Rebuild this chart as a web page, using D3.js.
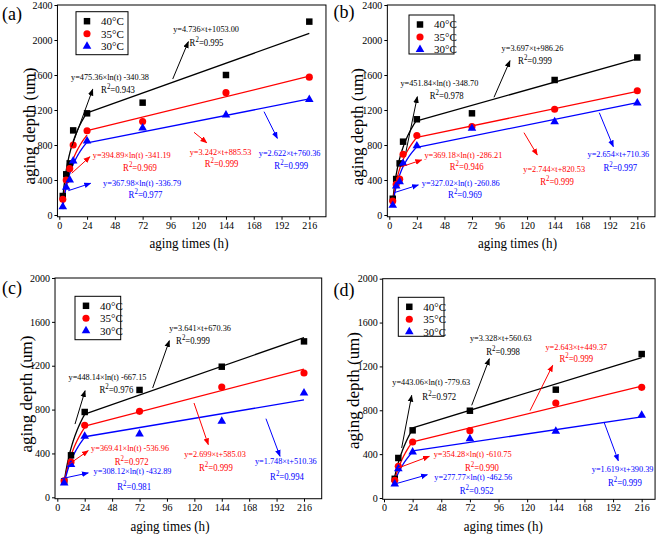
<!DOCTYPE html>
<html>
<head>
<meta charset="utf-8">
<script src="https://cdn.jsdelivr.net/npm/d3@7"></script>
<style>
  body { margin: 0; background: #fff; }
  svg text { font-family: "Liberation Serif", "Times New Roman", serif; font-weight: normal; }
</style>
</head>
<body>
<svg id="chart" width="660" height="536" font-family="Liberation Serif, serif"></svg>
<script>
// ---- data ----
const temps = ["40\u00B0C", "35\u00B0C", "30\u00B0C"];

const timesA = [3, 6, 9, 12, 24, 72, 144, 216];
const a40 = [217, 465, 590, 967, 1162, 1284, 1600, 2210];
const a35 = [179, 400, 530, 800, 963, 1068, 1398, 1575];
const a30 = [95, 317, 400, 617, 845, 995, 1143, 1320];
const logFitA = [[475.36, -340.38], [394.89, -341.19], [367.98, -336.79]];
const linFitA = [[4.736, 1053.00], [3.242, 885.53], [2.622, 760.36]];
const r2LogA = ["0.943", "0.969", "0.977"];
const r2LinA = ["0.995", "0.999", "0.999"];

const timesB = [3, 6, 9, 12, 24, 72, 144, 216];
const b40 = [186, 411, 590, 838, 1094, 1162, 1543, 1800];
const b35 = [160, 350, 410, 694, 908, 1010, 1208, 1420];
const b30 = [110, 330, 380, 590, 790, 990, 1065, 1280];
const logFitB = [[451.84, -348.70], [369.18, -286.21], [327.02, -260.86]];
const linFitB = [[3.697, 986.26], [2.744, 820.53], [2.654, 710.36]];
const r2LogB = ["0.978", "0.946", "0.969"];
const r2LinB = ["0.999", "0.999", "0.997"];

const timesC = [6, 12, 24, 72, 144, 216];
const c40 = [146, 383, 778, 979, 1191, 1422];
const c35 = [150, 322, 657, 784, 1006, 1134];
const c30 = [131, 298, 556, 577, 693, 951];
const logFitC = [[448.14, -667.15], [369.41, -536.96], [308.12, -432.89]];
const linFitC = [[3.641, 670.36], [2.699, 585.03], [1.748, 510.36]];
const r2LogC = ["0.976", "0.972", "0.981"];
const r2LinC = ["0.999", "0.999", "0.994"];

const timesD = [9, 12, 24, 72, 144, 216];
const d40 = [175, 365, 617, 796, 988, 1313];
const d35 = [161, 289, 511, 614, 866, 1009];
const d30 = [128, 267, 419, 541, 608, 754];
const logFitD = [[443.06, -779.63], [354.28, -610.75], [277.77, -462.56]];
const linFitD = [[3.328, 560.63], [2.643, 449.37], [1.619, 390.39]];
const r2LogD = ["0.972", "0.990", "0.952"];
const r2LinD = ["0.998", "0.999", "0.999"];

const xTicks = [0, 24, 48, 72, 96, 120, 144, 168, 192, 216];

// ---- annotation anchors (data units): order = 40 log, 40 lin, 35 log, 35 lin, 30 log, 30 lin ----
const notesA = [
  {from: [10.7, 781], to: [28.9, 1437], eq: [43.8, 1581], r2: [50.7, 1429]},
  {from: [98.0, 1554], to: [111.5, 1981], eq: [126.8, 2126], r2: [127.2, 1966]},
  {from: [10.7, 477], to: [26.5, 666], eq: [62.6, 686], r2: [69.7, 537]},
  {from: [116.4, 945], to: [127.4, 826], eq: [139.3, 723], r2: [140.2, 583]},
  {from: [7.8, 278], to: [27.1, 362], eq: [71.5, 369], r2: [74.5, 229]},
  {from: [176.9, 1181], to: [188.4, 877], eq: [199, 709], r2: [200.4, 563]}
];
const notesB = [
  {from: [14.5, 723], to: [24.4, 1352], eq: [43.6, 1505], r2: [50.0, 1360]},
  {from: [91.2, 1345], to: [105.1, 1763], eq: [124.7, 1916], r2: [126.9, 1760]},
  {from: [10.8, 552], to: [28.2, 629], eq: [64.5, 686], r2: [67.4, 552]},
  {from: [117.3, 941], to: [128.9, 686], eq: [143.6, 533], r2: [146.1, 381]},
  {from: [4.1, 255], to: [25.3, 343], eq: [62.2, 369], r2: [65.9, 229]},
  {from: [182.9, 1169], to: [195.1, 781], eq: [199.5, 697], r2: [201.2, 545]}
];
const notesC = [
  {from: [15.5, 668], to: [24.3, 972], eq: [43.9, 1102], r2: [51.7, 979]},
  {from: [83.5, 997], to: [98.1, 1428], eq: [125, 1543], r2: [118.8, 1428]},
  {from: [9.6, 297], to: [27.1, 425], eq: [63.7, 450], r2: [65.1, 328]},
  {from: [119.7, 860], to: [132.2, 480], eq: [138.1, 395], r2: [138.9, 273]},
  {from: [3.8, 170], to: [27.1, 222], eq: [65.8, 237], r2: [67.3, 100]},
  {from: [182.7, 717], to: [195, 374], eq: [200.1, 328], r2: [201.1, 191]}
];
const notesD = [
  {from: [14.8, 456], to: [23.2, 936], eq: [39.6, 1058], r2: [46.3, 927]},
  {from: [73.5, 845], to: [88.3, 1270], eq: [97.9, 1459], r2: [99.8, 1331]},
  {from: [12, 274], to: [38, 380], eq: [74.3, 401], r2: [82.1, 280]},
  {from: [122.4, 796], to: [141.4, 1210], eq: [161.2, 1383], r2: [161.2, 1270]},
  {from: [9.2, 128], to: [36.3, 212], eq: [74.8, 189], r2: [77.7, 67]},
  {from: [184.4, 693], to: [196.4, 340], eq: [200, 267], r2: [201.9, 137]}
];

// ---- styles / layout ----
const colors = ["#000000", "#ff0000", "#0000ff"];
const symbols = [d3.symbolSquare, d3.symbolCircle, d3.symbolTriangle];
const symbolSizes = [42, 40, 32];

const panels = [
  {name: "(a)", x0: 59.3, x216: 309.3, yZero: 215, yTop: 5, vmax: 2400, tLo: -1.6, tHi: 230.4, vLo: -20,
   label: [12, 13.5], legend: {x: 76, y: 11.7, w: 52, h: 43}, xTitle: [189, 243], yTitle: [29, 126],
   times: timesA, series: [a40, a35, a30], logFit: logFitA, linFit: linFitA, r2Log: r2LogA, r2Lin: r2LinA, notes: notesA},
  {name: "(b)", x0: 389.3, x216: 637.3, yZero: 215, yTop: 5, vmax: 2400, tLo: -1.7, tHi: 231.4, vLo: -20,
   label: [344, 11.7], legend: {x: 409, y: 15, w: 45, h: 39}, xTitle: [517.5, 243], yTitle: [357.5, 126.7],
   times: timesB, series: [b40, b35, b30], logFit: logFitB, linFit: linFitB, r2Log: r2LogB, r2Lin: r2LinB, notes: notesB},
  {name: "(c)", x0: 57.3, x216: 304, yZero: 497.3, yTop: 278, vmax: 2000, tLo: -2, tHi: 231.5, vLo: -13,
   label: [12, 287.2], legend: {x: 75, y: 296.3, w: 45.7, h: 43.4}, xTitle: [170, 526], yTitle: [26, 394],
   times: timesC, series: [c40, c35, c30], logFit: logFitC, linFit: linFitC, r2Log: r2LogC, r2Lin: r2LinC, notes: notesC},
  {name: "(d)", x0: 384, x216: 641.7, yZero: 498, yTop: 278.7, vmax: 2000, tLo: -1.1, tHi: 227.2, vLo: -12,
   label: [344, 289.2], legend: {x: 398.3, y: 297.3, w: 45.7, h: 39}, xTitle: [503.3, 526], yTitle: [353, 390.5],
   times: timesD, series: [d40, d35, d30], logFit: logFitD, linFit: linFitD, r2Log: r2LogD, r2Lin: r2LinD, notes: notesD}
];

const svg = d3.select("#chart");

// arrowheads, one per colour
const defs = svg.append("defs");
colors.forEach((c, i) => {
  defs.append("marker")
    .attr("id", "arrow" + i)
    .attr("viewBox", "0 -5 10 10")
    .attr("refX", 9)
    .attr("refY", 0)
    .attr("markerUnits", "userSpaceOnUse")
    .attr("markerWidth", 7)
    .attr("markerHeight", 7)
    .attr("orient", "auto")
    .append("path")
    .attr("d", "M0,-4L10,0L0,4Z")
    .attr("fill", c);
});

function squeezed(sel, cx, cy, sx) {
  return sel.attr("transform", `translate(${cx},${cy}) scale(${sx},1)`);
}

function drawPanel(p) {
  const x = d3.scaleLinear().domain([0, 216]).range([p.x0, p.x216]);
  const y = d3.scaleLinear().domain([0, p.vmax]).range([p.yZero, p.yTop]);
  const left = x(p.tLo), right = x(p.tHi), top = y(p.vmax), bottom = y(p.vLo);
  const g = svg.append("g");

  // axes (outward ticks)
  const xAxis = g.append("g")
    .attr("transform", `translate(0,${bottom})`)
    .call(d3.axisBottom(x).tickValues(xTicks).tickFormat(d3.format("d")).tickSize(3).tickPadding(2));
  const yAxis = g.append("g")
    .attr("transform", `translate(${left},0)`)
    .call(d3.axisLeft(y).tickValues(d3.range(0, p.vmax + 1, 400)).tickFormat(d3.format("d")).tickSize(3).tickPadding(2));
  [xAxis, yAxis].forEach(a => {
    a.attr("font-family", null).attr("font-size", null);
    a.select(".domain").remove();
    a.selectAll("text").attr("font-size", 10).attr("fill", "#000");
    a.selectAll("line").attr("stroke", "#000");
  });

  // frame
  g.append("rect")
    .attr("x", left).attr("y", top)
    .attr("width", right - left).attr("height", bottom - top)
    .attr("fill", "none").attr("stroke", "#000").attr("stroke-width", 1);

  // axis titles
  g.append("text")
    .attr("x", p.xTitle[0]).attr("y", p.xTitle[1])
    .attr("text-anchor", "middle").attr("dy", "0.35em")
    .attr("font-size", 14).attr("textLength", 79).attr("lengthAdjust", "spacingAndGlyphs")
    .text("aging times (h)");
  g.append("text")
    .attr("transform", `translate(${p.yTitle[0]},${p.yTitle[1]}) rotate(-90)`)
    .attr("text-anchor", "middle").attr("dy", "0.35em")
    .attr("font-size", 16).attr("textLength", 117).attr("lengthAdjust", "spacingAndGlyphs")
    .text("aging depth (um)");

  // panel letter
  g.append("text")
    .attr("x", p.label[0]).attr("y", p.label[1]).attr("dy", "0.35em")
    .attr("text-anchor", "middle").attr("font-size", 18)
    .text(p.name);

  // fitted curves: log up to 24 h, linear from 24 h on
  const line = d3.line().x(d => x(d[0])).y(d => y(d[1]));
  p.series.forEach((vals, i) => {
    const [a, b] = p.logFit[i];
    const [m, c] = p.linFit[i];
    const logPts = d3.range(p.times[0], 24.001, 0.25).map(t => [t, a * Math.log(t) + b]);
    g.append("path").attr("d", line(logPts))
      .attr("fill", "none").attr("stroke", colors[i]).attr("stroke-width", 1.3);
    g.append("path").attr("d", line([[24, m * 24 + c], [216, m * 216 + c]]))
      .attr("fill", "none").attr("stroke", colors[i]).attr("stroke-width", 1.3);
  });

  // data points
  p.series.forEach((vals, i) => {
    g.append("g").selectAll("path")
      .data(vals.map((v, k) => [p.times[k], v]))
      .join("path")
      .attr("transform", d => `translate(${x(d[0])},${y(d[1])})`)
      .attr("d", d3.symbol().type(symbols[i]).size(symbolSizes[i]))
      .attr("fill", colors[i]);
  });

  // annotations: arrows + equation + R^2
  p.notes.forEach((n, k) => {
    const i = Math.floor(k / 2);
    const isLog = k % 2 === 0;
    const col = colors[i];
    g.append("line")
      .attr("x1", x(n.from[0])).attr("y1", y(n.from[1]))
      .attr("x2", x(n.to[0])).attr("y2", y(n.to[1]))
      .attr("stroke", col).attr("stroke-width", 1)
      .attr("marker-end", `url(#arrow${i})`);
    let eq;
    if (isLog) {
      const [a, b] = p.logFit[i];
      eq = `y=${a.toFixed(2)}\u00D7ln(t) ${b.toFixed(2)}`;
    } else {
      const [m, c] = p.linFit[i];
      eq = `y=${m.toFixed(3)}\u00D7t+${c.toFixed(2)}`;
    }
    squeezed(g.append("text"), x(n.eq[0]), y(n.eq[1]), 0.92)
      .attr("text-anchor", "middle").attr("dy", "0.35em")
      .attr("font-size", 9).attr("fill", col).text(eq);
    const r2 = squeezed(g.append("text"), x(n.r2[0]), y(n.r2[1]), 0.92)
      .attr("text-anchor", "middle").attr("dy", "0.35em")
      .attr("font-size", 9.5).attr("fill", col);
    r2.append("tspan").text("R");
    r2.append("tspan").attr("dy", -4).attr("font-size", 7.5).text("2");
    r2.append("tspan").attr("dy", 4).text("=" + (isLog ? p.r2Log[i] : p.r2Lin[i]));
  });

  // legend
  const L = p.legend;
  const lg = g.append("g").attr("transform", `translate(${L.x},${L.y})`);
  lg.append("rect").attr("width", L.w).attr("height", L.h)
    .attr("fill", "#fff").attr("stroke", "#000").attr("stroke-width", 1);
  temps.forEach((t, i) => {
    const ry = 9.5 + i * 12.5;
    lg.append("path")
      .attr("transform", `translate(11,${ry})`)
      .attr("d", d3.symbol().type(symbols[i]).size(symbolSizes[i]))
      .attr("fill", colors[i]);
    lg.append("text").attr("x", 25).attr("y", ry).attr("dy", "0.35em")
      .attr("font-size", 11).text(t);
  });
}

panels.forEach(drawPanel);
</script>
</body>
</html>
